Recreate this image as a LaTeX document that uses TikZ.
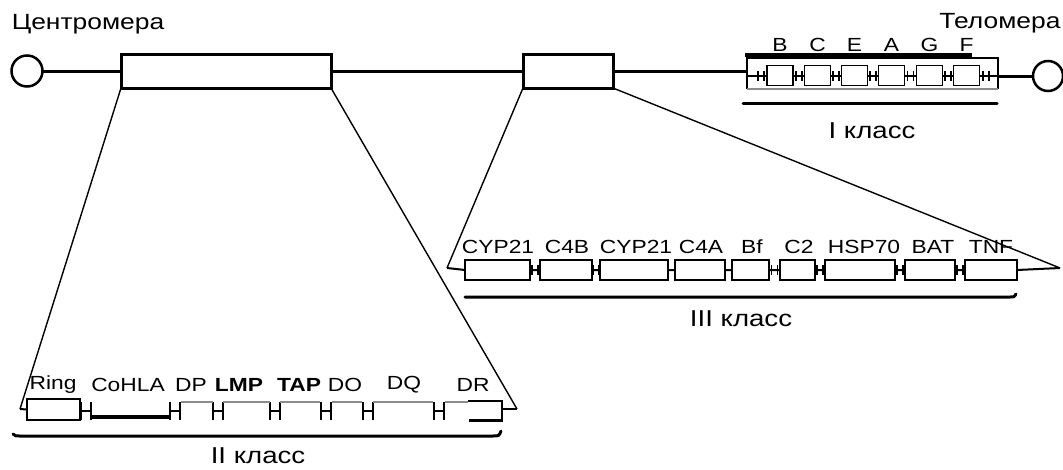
\documentclass[tikz,border=0pt]{standalone}
\usepackage{fontspec}
\setmainfont{Liberation Sans}[FakeStretch=1.2]
\begin{document}
\begin{tikzpicture}[x=1pt,y=-1pt,
  chrom/.style={line width=3pt},
  bigbox/.style={draw,line width=3pt,inner sep=0,outer sep=0,minimum height=34pt},
  gene/.style={draw,line width=2.2pt,inner sep=0,outer sep=0,minimum height=20pt,fill=white},
  fan/.style={line width=1.4pt},
  gl/.style={line width=2pt},
  faint/.style={draw=black!45,line width=1.2pt},
  brk/.style={line width=3pt,line cap=round},
  toplbl/.style={inner sep=0,font=\fontsize{22}{22}\selectfont},
  glbl/.style={inner sep=0,font=\fontsize{19}{19}\selectfont},
  clbl/.style={inner sep=0,font=\fontsize{23}{23}\selectfont},
  hj/.pic={\draw[line width=2pt] (-5,-9)--(-5,9) (5,-9)--(5,9) (-5,0)--(5,0);},
  mh/.pic={\draw[line width=1.6pt] (-3,-5)--(-3,5) (3,-5)--(3,5);}
]
\useasboundingbox (0,0) rectangle (1063,469);

% ---------- chromosome ----------
\node[toplbl] (tcen) at (88,24) {Центромера};
\node[toplbl] (ttel) at (1000,23) {Теломера};

\node[circle,draw,line width=2.5pt,minimum size=31pt,inner sep=0,outer sep=0] (cen) at (27,71) {};
\node[bigbox,minimum width=210pt] (b2) at (226,71) {};
\node[bigbox,minimum width=90pt] (b3) at (568,71) {};
\coordinate (IL) at (747,71);
\coordinate (IR) at (998,76);
\node[circle,draw,line width=2.5pt,minimum size=30pt,inner sep=0,outer sep=0] (tel) at (1048,76) {};

\draw[chrom] (cen) -- (b2);
\draw[chrom] (b2) -- (b3);
\draw[chrom] (b3) -- (IL);
\draw[chrom] (IR) -- (tel);

% ---------- class I ----------
\draw[line width=2pt] (747,89) -- (747,58) -- (998,58) -- (998,89);
\draw[faint] (747,89) -- (998,89);
\draw[line width=4pt] (745,55) -- (972,55);
\draw[gl] (747,75.5) -- (998,75.5);
\foreach \n/\x/\t in {1/780/B,2/817.5/C,3/854.5/E,4/891.5/A,5/929.5/G,6/966.5/F}{
  \node[gene,minimum width=26pt,line width=1.8pt] (I\n) at (\x,75.5) {};
  \node[glbl] (lI\n) at (\x,45) {\t};
}
\foreach \x in {761,799,836,873,910.5,948,986}{ \pic at (\x,75.5) {mh}; }
\draw[brk] (743,103) -- (997,103);
\node[clbl] (cI) at (872,131) {I класс};

% ---------- class II ----------
\coordinate (IIl) at (20,409);
\coordinate (IIr) at (517,409);
\draw[fan] (b2.south west) -- (IIl);
\draw[fan] (b2.south east) -- (IIr);
\node[gene,minimum width=53pt,minimum height=21pt] (ring) at (53.5,409.5) {};
\draw[gl] (IIl) -- (ring.west);
\foreach \x in {86,175,218,275,326,367.5,439}{ \pic at (\x,411) {hj}; }
\draw[line width=4pt] (91,417) -- (170,417);
\draw[faint] (181,402) -- (213,402);
\draw[faint] (223,402) -- (270,402);
\draw[faint] (280,402) -- (320,402);
\draw[faint] (332,402) -- (362,402);
\draw[faint] (373,402) -- (433,402);
\draw[faint] (445,402) -- (468,402);
\draw[line width=2pt] (468,401) -- (502,401) -- (502,420);
\draw[line width=3pt] (469,420) -- (503,420);
\draw[gl] (502,409) -- (IIr);
\foreach \n/\x/\t in {1/53/Ring,2/128/CoHLA,3/191/DP,4/239/\textbf{LMP},5/299/\textbf{TAP},6/345/DO,7/404/DQ,8/473/DR}{
  \node[glbl] (lII\n) at (\x,385) {\t};
}
\draw[brk] (13,434) .. controls (15,436) .. (22,436) -- (493,436) .. controls (499,436) .. (501,431);
\node[clbl] (cII) at (258,456) {II класс};

% ---------- class III ----------
\coordinate (IIIl) at (447,268);
\coordinate (IIIr) at (1060,268);
\draw[fan] (b3.south west) -- (IIIl);
\draw[fan] (b3.south east) -- (IIIr);
\draw[gl] (IIIl) -- (465,270) -- (1017,270) -- (1060,268);
\foreach \n/\a/\b/\lx/\t in {1/465/530/498/CYP21,2/540/592/567/C4B,3/600/668/636/CYP21,4/675/725/701/C4A,5/732/769/752/Bf,6/780/815/799/C2,7/825/895/864/HSP70,8/905/955/933/BAT,9/965/1017/991/TNF}{
  \pgfmathsetmacro\w{\b-\a}
  \pgfmathsetmacro\c{(\a+\b)/2}
  \node[gene,minimum width=\w pt] (III\n) at (\c,270) {};
  \node[glbl] (lIII\n) at (\lx,247) {\t};
}
\foreach \x in {535,596,671.5,728.5,774.5,820,900,960}{ \pic at (\x,270) {mh}; }
\draw[brk] (465,297) -- (1010,297) .. controls (1014,297) .. (1016,294);
\node[clbl] (cIII) at (741,319) {III класс};
\end{tikzpicture}
\end{document}
